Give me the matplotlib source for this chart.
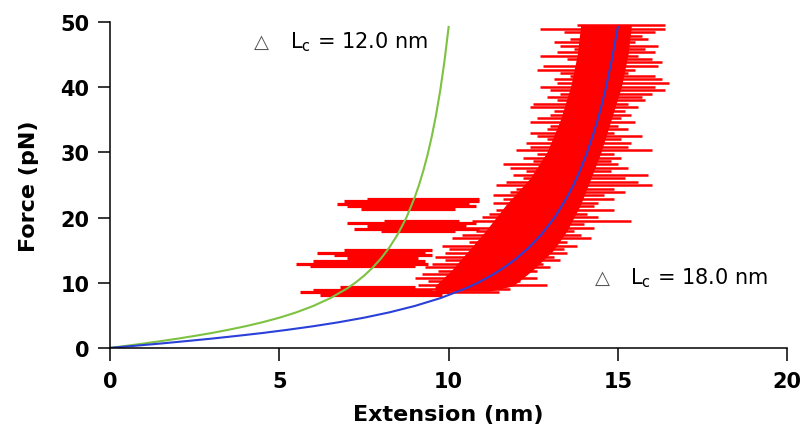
import matplotlib
matplotlib.use("Agg")
import matplotlib.pyplot as plt

plt.rcParams['font.family'] = ['DejaVu Sans']

# WLC fit curves
ext_12 = [0, 0.5, 1, 1.5, 2, 2.5, 3, 3.5, 4, 4.5, 5, 5.5, 6, 6.5, 7, 7.25, 7.5,
          7.75, 8, 8.25, 8.5, 8.75, 9, 9.125, 9.25, 9.375, 9.5, 9.625, 9.75,
          9.875, 10]
force_12 = [0, 0.33, 0.67, 1.04, 1.42, 1.84, 2.28, 2.78, 3.32, 3.93, 4.63, 5.45,
            6.43, 7.62, 9.11, 10.02, 11.07, 12.28, 13.71, 15.41, 17.46, 19.96,
            23.13, 25.01, 27.14, 29.58, 32.39, 35.64, 39.44, 43.92, 49.25]
ext_18 = [0, 0.75, 1.5, 2.25, 3, 3.75, 4.5, 5.25, 6, 6.75, 7.5, 8.25, 9, 9.75,
          10.5, 10.875, 11.25, 11.625, 12, 12.375, 12.75, 13.125, 13.5, 13.69,
          13.875, 14.06, 14.25, 14.44, 14.625, 14.81, 15]
force_18 = [0, 0.33, 0.67, 1.04, 1.42, 1.84, 2.28, 2.78, 3.32, 3.93, 4.63, 5.45,
            6.43, 7.62, 9.11, 10.02, 11.07, 12.28, 13.71, 15.41, 17.46, 19.96,
            23.13, 25.01, 27.14, 29.58, 32.39, 35.64, 39.44, 43.92, 49.25]

# red trace: dense core of the main trace
core_force = [49.5, 45, 40, 35, 30, 26, 22, 18, 15, 12, 9.5, 8.7]
core_left = [13.9, 13.8, 13.6, 13.3, 12.9, 12.4, 11.7, 11.1, 10.6, 10.1, 9.6, 9.6]
core_right = [15.4, 15.3, 15.1, 14.8, 14.5, 14.2, 13.9, 13.5, 13.1, 12.5, 11.9, 11.2]

# red trace: excursions of the main trace (force, left end, right end)
main_force = [49.5, 49.0, 48.5, 47.9, 47.4, 46.9, 46.4, 45.9, 45.4, 44.8, 44.3,
              43.8, 43.3, 42.7, 42.2, 41.7, 41.2, 40.7, 40.1, 39.6, 39.0, 38.5,
              38.0, 37.4, 36.9, 36.3, 35.8, 35.2, 34.7, 34.1, 33.6, 33.0, 32.5,
              32.0, 31.4, 30.9, 30.3, 29.8, 29.2, 28.7, 28.2, 27.6, 27.1, 26.6,
              26.0, 25.5, 25.0, 24.4, 23.9, 23.4, 22.8, 22.3, 21.7, 21.2, 20.6,
              20.1, 19.5, 19.0, 18.4, 17.9, 17.3, 16.8, 16.2, 15.7, 15.1, 14.6,
              14.0, 13.5, 12.9, 12.4, 11.8, 11.3, 10.7, 10.2, 9.6, 9.1, 8.6]
main_left = [13.8, 12.7, 13.4, 13.9, 13.6, 13.1, 13.3, 13.7, 13.2, 12.7, 13.5,
             13.9, 12.8, 12.6, 13.3, 13.6, 13.1, 13.2, 12.7, 13.0, 13.3, 12.9,
             13.2, 12.5, 12.4, 13.1, 13.0, 12.6, 12.4, 13.0, 12.9, 12.4, 12.6,
             12.9, 12.3, 12.4, 12.0, 12.6, 12.2, 12.5, 11.6, 11.8, 12.3, 11.9,
             12.2, 11.7, 11.4, 12.0, 11.8, 11.3, 11.6, 11.3, 11.9, 11.4, 11.2,
             11.0, 10.7, 11.3, 10.5, 10.8, 10.4, 10.1, 10.6, 9.8, 10.0, 9.9,
             9.6, 9.9, 9.5, 9.3, 9.7, 9.2, 9.0, 9.4, 9.1, 8.9, 8.7]
main_right = [16.4, 16.4, 16.1, 15.7, 15.9, 15.5, 16.2, 15.8, 16.1, 15.6, 16.0,
              16.3, 16.2, 15.5, 15.3, 16.1, 16.3, 16.5, 16.1, 16.4, 16.0, 15.7,
              15.8, 15.3, 15.6, 15.2, 15.4, 15.1, 15.5, 15.0, 15.3, 14.9, 15.7,
              15.1, 15.4, 15.3, 16.0, 14.9, 15.1, 14.8, 15.0, 15.3, 14.8, 15.9,
              15.2, 15.6, 16.0, 14.9, 15.2, 14.6, 14.9, 14.4, 14.3, 14.9, 14.1,
              14.4, 15.4, 14.0, 14.3, 13.7, 13.9, 14.2, 13.5, 13.8, 13.4, 13.5,
              13.1, 13.3, 12.8, 13.0, 12.6, 12.3, 12.6, 12.1, 12.9, 11.8, 11.5]

# red trace: the short force plateaus left of the main trace
band_force = [22.9, 22.5, 22.1, 21.7, 21.3,
              19.5, 19.1, 18.7, 18.3, 17.9,
              15.0, 14.6, 14.2, 13.8,
              13.3, 12.9, 12.5,
              9.3, 8.9, 8.5, 8.1]
band_left = [7.6, 6.9, 6.7, 7.0, 7.4,
             8.1, 7.0, 7.6, 7.2, 8.0,
             6.9, 6.1, 6.6, 7.0,
             6.0, 5.5, 5.9,
             6.8, 6.0, 5.6, 6.2]
band_right = [10.9, 10.9, 10.6, 10.8, 10.2,
              10.3, 10.8, 10.5, 10.9, 10.2,
              9.5, 9.3, 9.5, 9.1,
              9.3, 9.4, 9.0,
              9.0, 9.5, 10.0, 9.8]

red = '#ff0000'
fig = plt.figure(figsize=(8.04, 4.35), dpi=100)
ax = fig.add_axes([0.137, 0.198, 0.842, 0.749])

ax.fill_betweenx(core_force, core_left, core_right, color=red, lw=0)
ax.hlines(main_force, main_left, main_right, color=red, lw=1.8)
ax.hlines(band_force, band_left, band_right, color=red, lw=2.3)

ax.plot(ext_12, force_12, color='#7dc242', lw=1.5)
ax.plot(ext_18, force_18, color='#2a40d8', lw=1.5)

ax.text(4.47, 47.0, '\u25b3', fontsize=14, color='#555555', ha='center', va='center')
ax.text(5.3, 47.0, 'L$_{\\mathregular{c}}$ = 12.0 nm', fontsize=15, color='black',
        va='center')
ax.text(14.55, 10.8, '\u25b3', fontsize=14, color='#555555', ha='center', va='center')
ax.text(15.35, 10.8, 'L$_{\\mathregular{c}}$ = 18.0 nm', fontsize=15, color='black',
        va='center')

ax.set_xlim(0, 20)
ax.set_ylim(0, 50)
ax.set_xticks([0, 5, 10, 15, 20])
ax.set_yticks([0, 10, 20, 30, 40, 50])
for s in ['top', 'right']:
    ax.spines[s].set_visible(False)
for s in ['left', 'bottom']:
    ax.spines[s].set_linewidth(1.1)
ax.tick_params(direction='out', length=9, width=1.1, labelsize=15)
ax.tick_params(axis='x', pad=8)
ax.tick_params(axis='y', pad=6)
for lab in ax.get_xticklabels() + ax.get_yticklabels():
    lab.set_fontweight('bold')
ax.set_xlabel('Extension (nm)', fontsize=16, fontweight='bold', labelpad=9)
ax.set_ylabel('Force (pN)', fontsize=16, fontweight='bold', labelpad=15)

fig.savefig('out.png', dpi=100)
